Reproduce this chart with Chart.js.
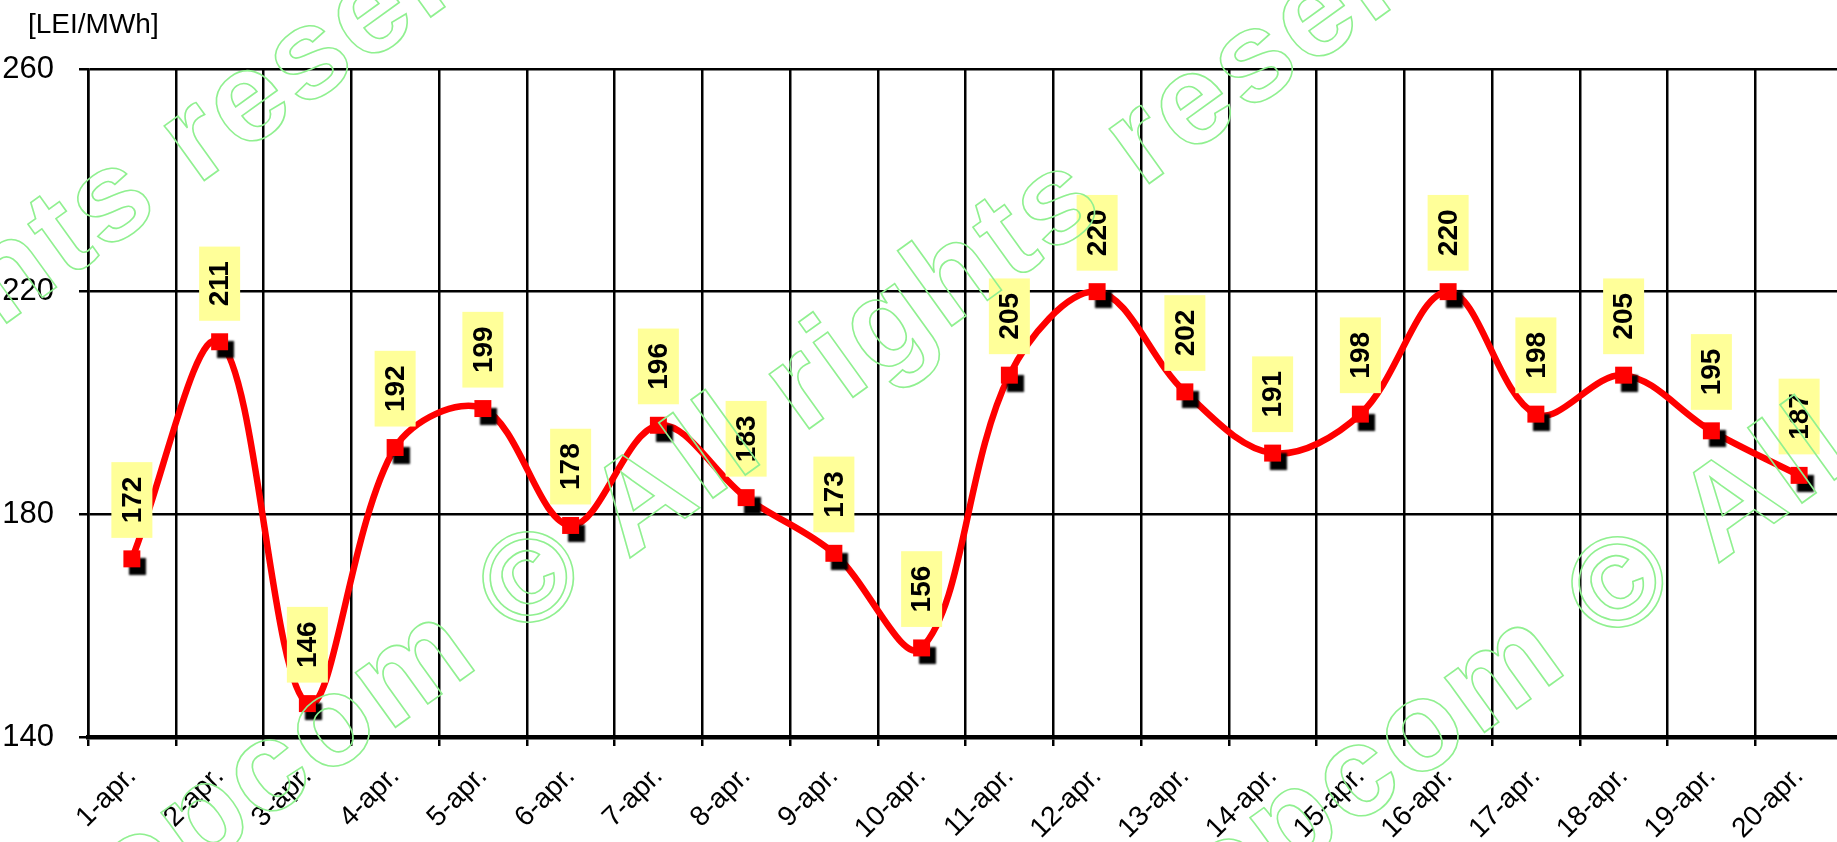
<!DOCTYPE html>
<html><head><meta charset="utf-8">
<script src="https://cdn.jsdelivr.net/npm/chart.js@4.4.1/dist/chart.umd.min.js"></script>
<style>
html,body{margin:0;padding:0;background:#fff;overflow:hidden;width:1837px;height:842px}
#wrap{position:absolute;left:0;top:0;width:1855px;height:842px}
</style>
</head><body><div id="wrap"><canvas id="c"></canvas></div>
<script>
const categories = ['1-apr.','2-apr.','3-apr.','4-apr.','5-apr.','6-apr.','7-apr.','8-apr.','9-apr.','10-apr.',
  '11-apr.','12-apr.','13-apr.','14-apr.','15-apr.','16-apr.','17-apr.','18-apr.','19-apr.','20-apr.'];
const prices = [172,211,146,192,199,178,196,183,173,156,205,220,202,191,198,220,198,205,195,187];
const yTicks = [140,180,220,260];
const unitLabel = '[LEI/MWh]';
const watermarkText = 'opcom \u00A9 All rights reserved';

const NARROW = '"Liberation Sans Narrow", "Arial Narrow", "Liberation Sans", Arial, sans-serif';
const SANS = '"Liberation Sans", Arial, sans-serif';

const markerShadow = {
  id: 'markerShadow',
  beforeDatasetDraw(chart, args) {
    if (args.index !== 1) return;
    const ctx = chart.ctx;
    ctx.save();
    ctx.shadowColor = 'rgba(0,0,0,1)';
    ctx.shadowOffsetX = 6;
    ctx.shadowOffsetY = 8;
    ctx.shadowBlur = 2;
  },
  afterDatasetDraw(chart, args) {
    if (args.index !== 1) return;
    chart.ctx.restore();
  }
};

const valueLabels = {
  id: 'valueLabels',
  afterDatasetsDraw(chart) {
    const ctx = chart.ctx;
    const meta = chart.getDatasetMeta(1);
    ctx.save();
    ctx.font = 'bold 28px ' + SANS;
    meta.data.forEach((pt, i) => {
      const txt = String(prices[i]);
      const tw = ctx.measureText(txt).width;
      const boxH = tw + 29, boxW = 41;
      const bottom = pt.y - 21;
      ctx.fillStyle = '#FFFF99';
      ctx.fillRect(pt.x - boxW / 2, bottom - boxH, boxW, boxH);
      ctx.save();
      ctx.translate(pt.x, bottom - boxH / 2);
      ctx.rotate(-Math.PI / 2);
      ctx.fillStyle = '#000';
      ctx.textAlign = 'center';
      ctx.textBaseline = 'middle';
      ctx.fillText(txt, 0, 1);
      ctx.restore();
    });
    ctx.restore();
  }
};

const unitTitle = {
  id: 'unitTitle',
  afterDraw(chart) {
    const ctx = chart.ctx;
    ctx.save();
    ctx.font = '28px ' + SANS;
    ctx.fillStyle = '#000';
    ctx.textAlign = 'left';
    ctx.textBaseline = 'alphabetic';
    ctx.fillText(unitLabel, 28, 33);
    ctx.restore();
  }
};

const watermark = {
  id: 'watermark',
  afterDraw(chart) {
    const ctx = chart.ctx;
    ctx.save();
    ctx.font = 'bold 128px ' + SANS;
    ctx.strokeStyle = '#90F090';
    ctx.lineWidth = 1.6;
    ctx.textAlign = 'left';
    ctx.textBaseline = 'middle';
    if ('letterSpacing' in ctx) ctx.letterSpacing = '4px';
    const pre = ctx.measureText('opcom ').width;
    const cw = ctx.measureText('\u00A9').width;
    [[-410, 580], [535, 583], [1624, 588]].forEach(([x, y]) => {
      ctx.save();
      ctx.translate(x, y);
      ctx.rotate(-35.8 * Math.PI / 180);
      ctx.strokeText(watermarkText, -(pre + cw / 2), 0);
      ctx.restore();
    });
    ctx.restore();
  }
};

new Chart(document.getElementById('c'), {
  type: 'line',
  data: {
    labels: categories,
    datasets: [
      {
        data: prices,
        borderColor: '#FF0000',
        borderWidth: 6.5,
        pointRadius: 0,
        pointHoverRadius: 0,
        tension: 0.35,
        fill: false,
        order: 1
      },
      {
        data: prices,
        showLine: false,
        pointStyle: 'rect',
        pointRadius: 12,
        pointHoverRadius: 12,
        pointBackgroundColor: '#FF0000',
        pointBorderWidth: 0,
        borderColor: '#FF0000',
        order: 0
      }
    ]
  },
  options: {
    responsive: true,
    maintainAspectRatio: false,
    animation: false,
    events: [],
    layout: { padding: { top: 69, left: 0, right: 0, bottom: 0 } },
    plugins: { legend: { display: false }, tooltip: { enabled: false }, title: { display: false } },
    scales: {
      x: {
        type: 'category',
        offset: true,
        grid: { offset: true, color: '#000', lineWidth: 2.5, drawTicks: true, tickLength: 9, tickColor: '#000', tickWidth: 2.5 },
        border: { display: true, color: '#000', width: 4.5, z: 1 },
        ticks: {
          autoSkip: false,
          maxRotation: 45,
          minRotation: 45,
          padding: 14,
          color: '#000',
          font: { family: NARROW, size: 28 }
        },
        afterFit(s) { s.height = 105; }
      },
      y: {
        min: 140,
        max: 260,
        afterBuildTicks(s) { s.ticks = yTicks.map(v => ({ value: v })); },
        grid: { color: '#000', lineWidth: 2.5, drawTicks: true, tickLength: 9, tickColor: '#000', tickWidth: 2.5 },
        border: { display: true, color: '#000', width: 2.5 },
        ticks: {
          padding: 25,
          color: '#000',
          font: { family: NARROW, size: 31 }
        },
        afterFit(s) { s.width = 88; }
      }
    }
  },
  plugins: [markerShadow, valueLabels, unitTitle, watermark]
});
</script>
</body></html>
